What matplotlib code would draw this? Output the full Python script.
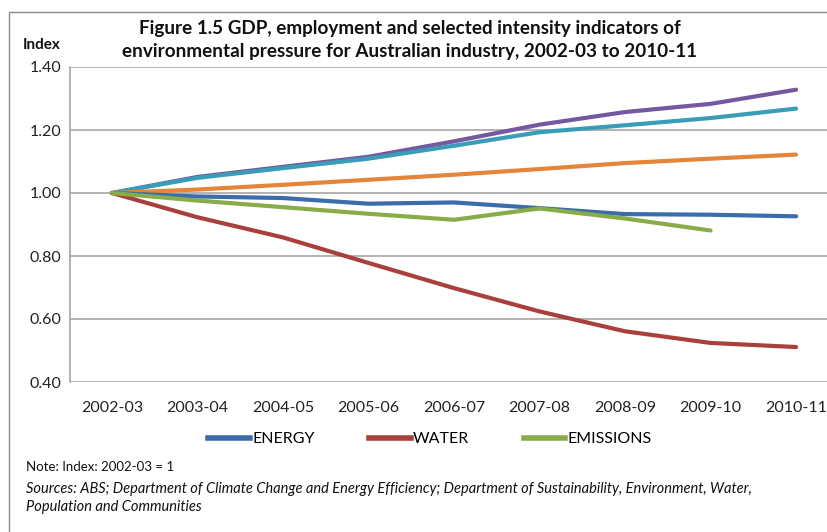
import matplotlib.pyplot as plt
from matplotlib.lines import Line2D
from matplotlib.patches import Rectangle

plt.rcParams['font.family'] = ['Lato', 'DejaVu Sans']

years = ['2002-03', '2003-04', '2004-05', '2005-06', '2006-07',
         '2007-08', '2008-09', '2009-10', '2010-11']

gdp = [1.00, 1.051, 1.083, 1.115, 1.164, 1.217, 1.257, 1.283, 1.328]
employment = [1.00, 1.048, 1.079, 1.109, 1.150, 1.193, 1.215, 1.238, 1.268]
other = [1.00, 1.011, 1.026, 1.042, 1.058, 1.076, 1.095, 1.109, 1.122]
energy = [1.00, 0.989, 0.984, 0.966, 0.970, 0.952, 0.933, 0.931, 0.926]
water = [1.00, 0.923, 0.859, 0.778, 0.698, 0.624, 0.561, 0.524, 0.511]
emissions = [1.00, 0.976, 0.955, 0.934, 0.915, 0.951, 0.919, 0.881]

C_ENERGY = '#3A6DAA'
C_WATER = '#A8403C'
C_EMIS = '#88AC48'
C_GDP = '#7458A0'
C_EMP = '#3A9DB8'
C_OTHER = '#E5853A'
GRID = '#A6A6A6'

fig = plt.figure(figsize=(8.27, 5.32), dpi=100)
# outer chart border
fig.patches.append(Rectangle((9 / 827, -0.1), 1.2, 1.1 - 12 / 532,
                             transform=fig.transFigure, fill=False,
                             edgecolor='#8C8C8C', linewidth=1.0))

ax = fig.add_axes([70 / 827, 150 / 532, 768 / 827, 315 / 532])
x = list(range(len(years)))
lw = 3.0
ax.plot(x, gdp, color=C_GDP, lw=lw, solid_capstyle='round')
ax.plot(x, employment, color=C_EMP, lw=lw, solid_capstyle='round')
ax.plot(x, other, color=C_OTHER, lw=lw, solid_capstyle='round')
ax.plot(x, energy, color=C_ENERGY, lw=lw, solid_capstyle='round')
ax.plot(x, water, color=C_WATER, lw=lw, solid_capstyle='round')
ax.plot(x[:len(emissions)], emissions, color=C_EMIS, lw=lw, solid_capstyle='round')

ax.set_xlim(-0.49, len(years) - 0.51)
ax.set_ylim(0.40, 1.40)
ax.set_yticks([0.40, 0.60, 0.80, 1.00, 1.20, 1.40])
ax.set_yticklabels([f'{v:.2f}' for v in [0.40, 0.60, 0.80, 1.00, 1.20, 1.40]])
ax.set_xticks(x)
ax.set_xticklabels(years)
ax.tick_params(axis='both', length=0, labelsize=11.5, colors='#222222')
ax.tick_params(axis='x', pad=14)
ax.tick_params(axis='y', pad=6)
ax.grid(axis='y', color=GRID, lw=1.2)
ax.set_axisbelow(True)
for s in ['top', 'right', 'bottom']:
    ax.spines[s].set_visible(False)
ax.spines['left'].set_color(GRID)
ax.spines['left'].set_linewidth(1.2)

fig.text(410 / 827, 1 - 40 / 532,
         'Figure 1.5 GDP, employment and selected intensity indicators of\n'
         'environmental pressure for Australian industry, 2002-03 to 2010-11',
         ha='center', va='center', fontsize=13.6, fontweight='bold',
         linespacing=1.38, color='#111111')
fig.text(42 / 827, 1 - 45 / 532, 'Index', ha='center', va='center',
         fontsize=11, fontweight='bold', color='#111111')

handles = [Line2D([], [], color=c, lw=4) for c in (C_ENERGY, C_WATER, C_EMIS)]
fig.legend(handles, ['ENERGY', 'WATER', 'EMISSIONS'], ncol=3,
           loc='center', bbox_to_anchor=(430 / 827, 1 - 439 / 532),
           frameon=False, fontsize=11.5, handlelength=2.6, handletextpad=0.15,
           columnspacing=3.4)

fig.text(26 / 827, 1 - 467 / 532, 'Note: Index: 2002-03 = 1',
         fontsize=9.5, va='center', color='#111111')
fig.text(26 / 827, 1 - 489 / 532,
         'Sources: ABS; Department of Climate Change and Energy Efficiency; '
         'Department of Sustainability, Environment, Water,',
         fontsize=10.5, va='center', style='italic', color='#111111')
fig.text(26 / 827, 1 - 507 / 532, 'Population and Communities',
         fontsize=10.5, va='center', style='italic', color='#111111')

fig.savefig('out.png', dpi=100)
